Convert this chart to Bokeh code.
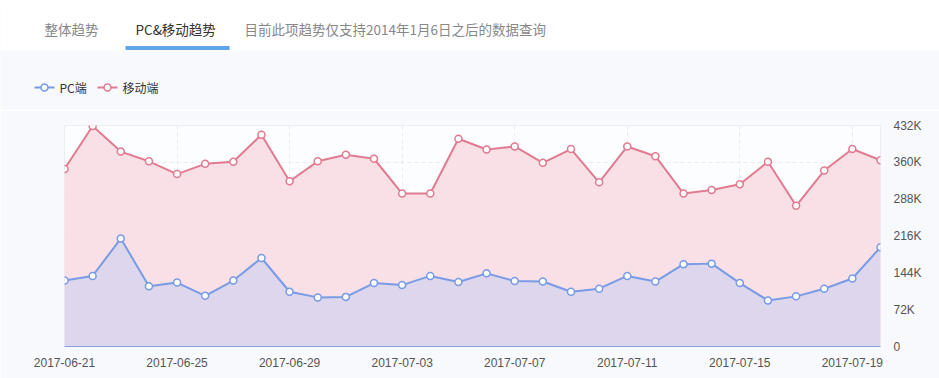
from bokeh.plotting import figure
from bokeh.models import ColumnDataSource, FixedTicker, Range1d
from bokeh.layouts import column
from bokeh.core.properties import value
from bokeh.embed import file_html
from bokeh.resources import INLINE

dates = ["2017-06-21", "2017-06-22", "2017-06-23", "2017-06-24", "2017-06-25", "2017-06-26",
         "2017-06-27", "2017-06-28", "2017-06-29", "2017-06-30", "2017-07-01", "2017-07-02",
         "2017-07-03", "2017-07-04", "2017-07-05", "2017-07-06", "2017-07-07", "2017-07-08",
         "2017-07-09", "2017-07-10", "2017-07-11", "2017-07-12", "2017-07-13", "2017-07-14",
         "2017-07-15", "2017-07-16", "2017-07-17", "2017-07-18", "2017-07-19", "2017-07-20"]
mobile = [347000, 431000, 381000, 362000, 337000, 357000, 361000, 414000, 323000, 362000,
          375000, 367000, 299000, 299000, 406000, 385000, 391000, 359000, 386000, 321000,
          391000, 372000, 299000, 306000, 317000, 361000, 275000, 344000, 386000, 364000]
pc = [129000, 138000, 211000, 118000, 125000, 99000, 129000, 173000, 107000, 96000,
      97000, 124000, 120000, 138000, 126000, 143000, 128000, 127000, 107000, 113000,
      138000, 127000, 161000, 162000, 124000, 90000, 98000, 113000, 133000, 194000]
y_ticks = [0, 72000, 144000, 216000, 288000, 360000, 432000]
y_tick_labels = ["0", "72K", "144K", "216K", "288K", "360K", "432K"]
series_names = ["PC端", "移动端"]
tabs = ["整体趋势", "PC&移动趋势", "目前此项趋势仅支持2014年1月6日之后的数据查询"]

W, H = 939, 378
HH = 110                      # header height
FL, FR, FT, FB = 64, 880, 125, 346  # frame edges in page px
BG = "#f7f9fc"
PINK, BLUE = "#e07b91", "#789be6"

# ---------------- header (tabs + legend), pixel coordinates ----------------
h = figure(width=W, height=HH, output_backend="svg", toolbar_location=None,
           x_range=Range1d(0, W), y_range=Range1d(HH, 0),
           min_border=0, min_border_left=0, min_border_right=0,
           min_border_top=0, min_border_bottom=0)
h.frame_align = False
h.axis.visible = False
h.grid.visible = False
h.outline_line_color = None
h.background_fill_color = BG
h.border_fill_color = BG

h.quad(left=[0], right=[W], top=[0], bottom=[50], fill_color="#ffffff", line_color=None)
h.quad(left=[125], right=[229], top=[45.5], bottom=[49.5], fill_color="#5ea5e8", line_color=None)
h.text(x=[44, 135, 244], y=[28, 28, 28], text=tabs,
       text_color=["#888888", "#333333", "#888888"],
       text_font=value("Noto Sans CJK SC"), text_font_size="13.5px",
       text_baseline="middle", text_align="left")

# legend
leg_x = [34, 97]
leg_y = 87
for lx, col, name in zip(leg_x, [BLUE, PINK], series_names):
    h.segment(x0=[lx], y0=[leg_y], x1=[lx + 20], y1=[leg_y], line_color=col, line_width=2)
    h.scatter(x=[lx + 10], y=[leg_y], size=7, marker="circle", fill_color="white",
              line_color=col, line_width=1.5)
    h.text(x=[lx + 25], y=[leg_y], text=[name], text_color="#333333",
           text_font=value("Noto Sans CJK SC"), text_font_size="12px",
           text_baseline="middle", text_align="left")

# ---------------- main chart ----------------
xs = list(range(len(dates)))
src = ColumnDataSource(dict(x=xs, mobile=mobile, pc=pc, zero=[0] * len(xs)))

p = figure(width=W, height=H - HH, output_backend="svg", toolbar_location=None,
           x_range=Range1d(0, len(xs) - 1), y_range=Range1d(0, 432000),
           y_axis_location="right",
           min_border_left=FL, min_border_right=W - FR,
           min_border_top=FT - HH, min_border_bottom=H - FB)
p.frame_align = False
p.border_fill_color = BG
p.background_fill_color = "#fcfdfe"
p.outline_line_color = "#eceef2"

p.varea(x="x", y1="zero", y2="mobile", source=src, fill_color="#f9e0e6")
p.varea(x="x", y1="zero", y2="pc", source=src, fill_color="#ddd6ec")

p.xgrid.ticker = FixedTicker(ticks=list(range(0, len(xs), 4)))
p.ygrid.ticker = FixedTicker(ticks=y_ticks)
for g in (p.xgrid, p.ygrid):
    g.grid_line_color = "#e4e6ec"
    g.grid_line_dash = "4 3"
    g.grid_line_alpha = 0.8

p.line(x="x", y="mobile", source=src, line_color=PINK, line_width=2)
p.scatter(x="x", y="mobile", source=src, size=7, marker="circle", fill_color="white",
          line_color=PINK, line_width=1.5)
p.line(x="x", y="pc", source=src, line_color=BLUE, line_width=2)
p.scatter(x="x", y="pc", source=src, size=7, marker="circle", fill_color="white",
          line_color=BLUE, line_width=1.5)

xa = p.xaxis[0]
xa.ticker = FixedTicker(ticks=list(range(0, len(xs), 4)))
xa.major_label_overrides = {i: dates[i] for i in range(0, len(xs), 4)}
xa.axis_line_color = "#86a2db"
xa.axis_line_width = 1
xa.major_tick_line_color = None
xa.minor_tick_line_color = None
xa.major_label_text_font = "Liberation Sans"
xa.major_label_text_font_size = "12px"
xa.major_label_text_color = "#555555"
xa.major_label_standoff = 5

ya = p.yaxis[0]
ya.ticker = FixedTicker(ticks=y_ticks)
ya.major_label_overrides = {t: l for t, l in zip(y_ticks, y_tick_labels)}
ya.axis_line_color = None
ya.major_tick_line_color = None
ya.minor_tick_line_color = None
ya.major_label_text_font = "Liberation Sans"
ya.major_label_text_font_size = "12px"
ya.major_label_text_color = "#555555"
ya.major_label_standoff = 7

layout = column(h, p, spacing=0)
open("out.html", "w").write(file_html(layout, INLINE))
